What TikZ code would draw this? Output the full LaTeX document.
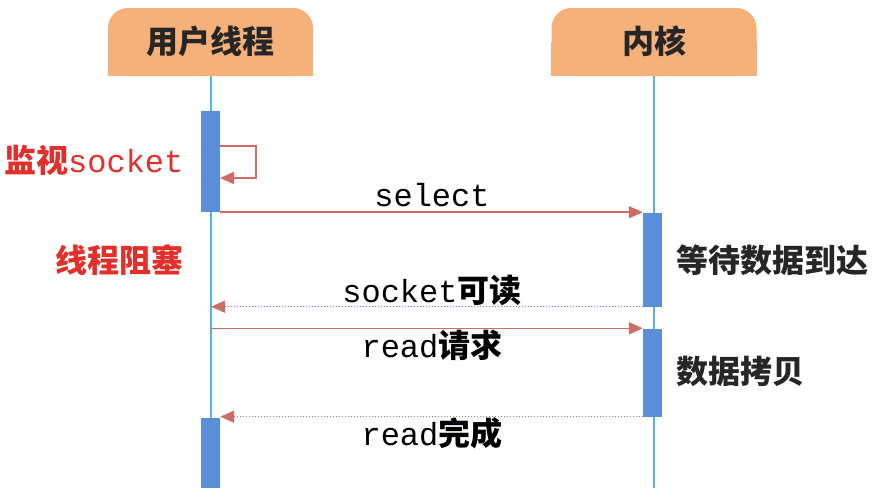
\documentclass[tikz,border=0pt]{standalone}
\usepackage{fontspec}
\setmonofont{Liberation Mono}
\newfontfamily\cjk{Noto Sans CJK SC}
\usetikzlibrary{arrows.meta}
\definecolor{hdrfill}{HTML}{F6B07A}
\definecolor{lifec}{HTML}{52B8DA}
\definecolor{actc}{HTML}{5B8ED8}
\definecolor{msgc}{HTML}{D06C68}
\definecolor{redtxt}{HTML}{E42E2A}
\tikzset{
  hdr/.style={fill=hdrfill, rounded corners=20pt, minimum width=205pt, minimum height=68pt, inner sep=0pt},
  lifeline/.style={draw=lifec, line width=1.4pt},
  actbox/.style={fill=actc, minimum width=19pt, inner sep=0pt},
  msg/.style={draw=msgc, line width=1.5pt, -{Triangle[length=14pt,width=12pt]}},
  ret/.style={msg, line width=1.3pt, dash pattern=on 1.3pt off 1.7pt},
  mono/.style={font=\ttfamily\fontsize{32}{36}\selectfont, inner sep=0pt, anchor=base},
  cj/.style={font=\cjk\bfseries\fontsize{32}{38}\selectfont, inner sep=0pt, anchor=base west},
}
\begin{document}
\begin{tikzpicture}[x=1pt,y=-1pt]
\useasboundingbox[fill=white] (0,0) rectangle (884,488);
% headers
\node[hdr] (uhdr) at (210.5,42) {};
\fill[hdrfill] (uhdr.west) rectangle (uhdr.south east);
\node[hdr] (khdr) at (654,42) {};
\fill[hdrfill] (khdr.west) rectangle (khdr.south east);
\node[font=\cjk\bfseries\fontsize{32}{38}\selectfont, text=black!85, inner sep=0pt, anchor=base] (utxt) at (210.5,53) {用户线程};
\node[font=\cjk\bfseries\fontsize{32}{38}\selectfont, text=black!85, inner sep=0pt, anchor=base] (ktxt) at (654,53) {内核};
% lifelines
\coordinate (uend) at (211,488);
\coordinate (kend) at (654,488);
\draw[lifeline] (uhdr.south -| uend) -- (uend);
\draw[lifeline] (khdr.south -| kend) -- (kend);
% activation boxes
\node[actbox, minimum height=101pt] (ua1) at (210.5,161.5) {};
\node[actbox, minimum height=94pt] (ka1) at (652.5,259.5) {};
\node[actbox, minimum height=88pt] (ka2) at (652.5,372.5) {};
\node[actbox, minimum height=70pt] (ua2) at (210.5,453) {};
% self loop
\coordinate (sl1) at (220,146);
\coordinate (sl2) at (220,178);
\draw[msg] (sl1) -- ++(36,0) |- (sl2);
% messages
\draw[msg] (ua1.south east) -- (ua1.south east -| ka1.west);
\draw[ret] (ka1.south west) -- (ka1.south west -| uend);
\draw[msg] (ka2.north west -| uend) -- (ka2.north west);
\draw[ret] (ka2.south west) -- (ka2.south west -| ua2.east);
% message labels
\node[mono] (lsel) at (432,206) {select};
\node[mono] (lsock) at (432,302) {socket{\cjk\bfseries 可读}};
\node[mono] (lreq) at (432,357) {read{\cjk\bfseries 请求}};
\node[mono] (ldone) at (432,445) {read{\cjk\bfseries 完成}};
% side labels
\node[cj, text=redtxt] (lmon) at (4,172) {监视{\ttfamily\mdseries\fontsize{32}{36}\selectfont socket}};
\node[cj, text=redtxt] (lblk) at (55,272) {线程阻塞};
\node[cj, text=black!85] (lwait) at (676,272) {等待数据到达};
\node[cj, text=black!85] (lcopy) at (676,383) {数据拷贝};
\end{tikzpicture}
\end{document}
